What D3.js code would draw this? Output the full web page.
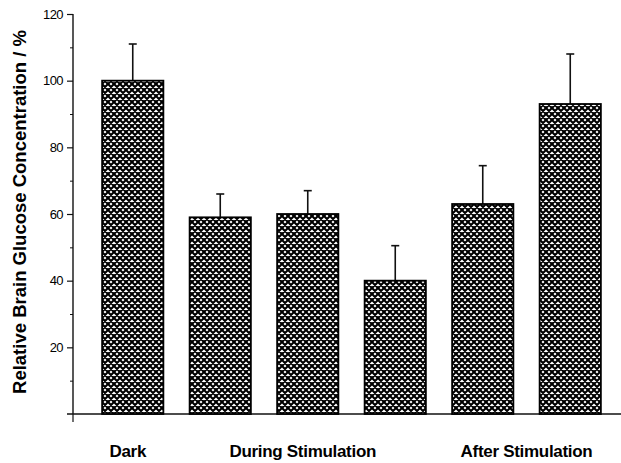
<!DOCTYPE html>
<html>
<head>
<meta charset="utf-8">
<script src="https://cdn.jsdelivr.net/npm/d3@7"></script>
<style>
  body { margin: 0; background: #fff; }
  text { font-family: "Liberation Sans", Arial, sans-serif; fill: #000; }
</style>
</head>
<body>
<div id="chart"></div>
<script>
// bar data (relative glucose, % of dark)
const bars = ["dark", "during1", "during2", "during3", "after1", "after2"];
const values = [100, 59, 60, 40, 63, 93];
const errors = [11, 7, 7, 10.5, 11.5, 15];

// group labels under the bars
const groupLabels = ["Dark", "During Stimulation", "After Stimulation"];
const groupFirst = ["dark", "during1", "after1"];
const groupLast = ["dark", "during3", "after2"];

const yTicks = [20, 40, 60, 80, 100, 120];
const yMinor = [10, 30, 50, 70, 90, 110];

const W = 621, H = 463;

let svg = d3.select("#chart").append("svg")
    .attr("width", W)
    .attr("height", H);

// crosshatch fill
let pat = svg.append("defs").append("pattern")
    .attr("id", "hatch")
    .attr("patternUnits", "userSpaceOnUse")
    .attr("width", 6)
    .attr("height", 6);
pat.append("rect").attr("width", 6).attr("height", 6).attr("fill", "#fff");
pat.append("path")
    .attr("d", "M-1,1 L1,-1 M0,6 L6,0 M5,7 L7,5 M-1,5 L1,7 M0,0 L6,6 M5,-1 L7,1")
    .attr("stroke", "#000")
    .attr("stroke-width", 2.1);

let x = d3.scaleBand()
    .domain(bars)
    .range([89, 614])
    .paddingInner(0.3)
    .paddingOuter(0.15);

let y = d3.scaleLinear()
    .domain([0, 120])
    .range([414, 14]);

let axisX = 73;

// y axis
let yAxis = svg.append("g")
    .attr("transform", "translate(" + axisX + ",0)")
    .call(d3.axisLeft(y).tickValues(yTicks).tickSize(6).tickPadding(4))
    .call(g => g.select(".domain").remove());
yAxis.selectAll("line").attr("stroke", "#111").attr("stroke-width", 1.2);
yAxis.selectAll("text")
    .attr("fill", "#000")
    .style("font-size", "13px")
    .style("letter-spacing", "-0.6px")
    .style("font-family", "'Liberation Sans', Arial, sans-serif");

svg.append("g")
    .attr("transform", "translate(" + axisX + ",0)")
    .call(d3.axisLeft(y).tickValues(yMinor).tickSize(3).tickFormat(""))
    .call(g => g.select(".domain").remove())
    .selectAll("line").attr("stroke", "#111").attr("stroke-width", 1);

svg.append("line")
    .attr("x1", axisX).attr("x2", axisX)
    .attr("y1", y(0)).attr("y2", y(120))
    .attr("stroke", "#111").attr("stroke-width", 1.4);

// x baseline and small tick
svg.append("line")
    .attr("x1", 67).attr("x2", W)
    .attr("y1", y(0)).attr("y2", y(0))
    .attr("stroke", "#111").attr("stroke-width", 1.4);
svg.append("line")
    .attr("x1", axisX).attr("x2", axisX)
    .attr("y1", y(0)).attr("y2", y(0) + 8)
    .attr("stroke", "#111").attr("stroke-width", 1.2);

// error bars
let eb = svg.selectAll("g.err")
    .data(bars)
    .enter()
    .append("g")
    .attr("class", "err");
eb.append("line")
    .attr("x1", d => x(d) + x.bandwidth() / 2)
    .attr("x2", d => x(d) + x.bandwidth() / 2)
    .attr("y1", (d, i) => y(values[i]))
    .attr("y2", (d, i) => y(values[i] + errors[i]))
    .attr("stroke", "#111").attr("stroke-width", 1.6);
eb.append("line")
    .attr("x1", d => x(d) + x.bandwidth() / 2 - 4)
    .attr("x2", d => x(d) + x.bandwidth() / 2 + 4)
    .attr("y1", (d, i) => y(values[i] + errors[i]))
    .attr("y2", (d, i) => y(values[i] + errors[i]))
    .attr("stroke", "#111").attr("stroke-width", 1.6);

// bars
svg.selectAll("rect.bar")
    .data(bars)
    .enter()
    .append("rect")
    .attr("class", "bar")
    .attr("x", d => x(d))
    .attr("y", (d, i) => y(values[i]))
    .attr("width", x.bandwidth())
    .attr("height", (d, i) => y(0) - y(values[i]))
    .attr("fill", "url(#hatch)")
    .attr("stroke", "#000")
    .attr("stroke-width", 1.8);

// group labels (slightly off-centre in the original)
const labelShift = [-5, -5, 0];
svg.selectAll("text.group")
    .data(groupLabels)
    .enter()
    .append("text")
    .attr("class", "group")
    .attr("x", (d, i) => {
        let a = x(groupFirst[i]), b = x(groupLast[i]) + x.bandwidth();
        return (a + b) / 2 + labelShift[i];
    })
    .attr("y", 457)
    .attr("text-anchor", "middle")
    .style("font-size", "17px")
    .style("font-weight", "bold")
    .style("letter-spacing", "-0.3px")
    .text(d => d);

// y label
svg.append("text")
    .attr("transform", "translate(26,212) rotate(-90)")
    .attr("text-anchor", "middle")
    .style("font-size", "18.5px")
    .style("font-weight", "bold")
    .text("Relative Brain Glucose Concentration / %");
</script>
</body>
</html>
